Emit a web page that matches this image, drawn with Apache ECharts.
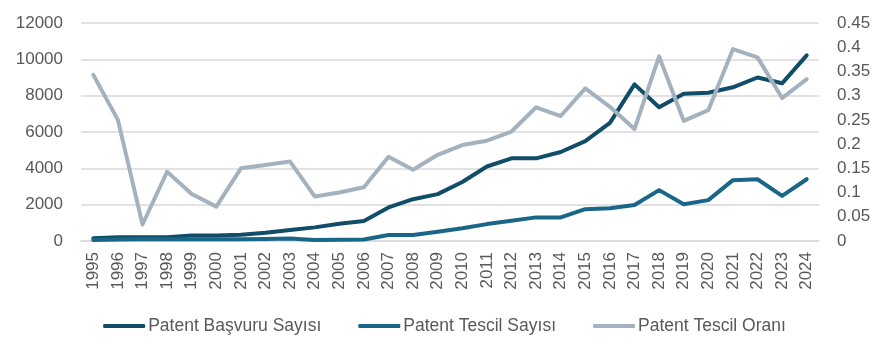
<!DOCTYPE html>
<html><head><meta charset="utf-8">
<script src="https://cdn.jsdelivr.net/npm/echarts@6/dist/echarts.min.js"></script>
<style>html,body{margin:0;padding:0;background:#fff}#c{width:889px;height:356px}</style>
</head><body><div id="c"></div>
<script>
const years = ['1995','1996','1997','1998','1999','2000','2001','2002','2003','2004','2005','2006','2007','2008','2009','2010','2011','2012','2013','2014','2015','2016','2017','2018','2019','2020','2021','2022','2023','2024'];
const basvuru = [150,200,200,200,300,300,350,450,600,750,950,1100,1850,2300,2580,3250,4100,4550,4550,4900,5500,6500,8620,7360,8100,8160,8460,9000,8680,10220];
const tescil = [60,80,90,90,100,100,90,110,140,60,70,80,330,330,510,700,930,1120,1300,1300,1750,1800,1980,2800,2020,2250,3350,3400,2480,3400];
const oran = [0.343,0.250,0.034,0.143,0.097,0.071,0.150,0.157,0.164,0.092,0.100,0.111,0.174,0.147,0.178,0.198,0.207,0.226,0.276,0.258,0.315,0.277,0.231,0.381,0.248,0.270,0.396,0.379,0.295,0.334];
const leftTicks = {min:0, max:12000, interval:2000};
const rightTicks = {min:0, max:0.45, interval:0.05};
const names = ['Patent Başvuru Sayısı','Patent Tescil Sayısı','Patent Tescil Oranı'];
const colors = ['#114C68','#1A6688','#A3B2BE'];

const chart = echarts.init(document.getElementById('c'), null, {renderer:'canvas'});
const font = 'Liberation Sans, Arial, sans-serif';
chart.setOption({
  animation:false,
  color: colors,
  grid:{left:81, right:70, top:23, bottom:115, containLabel:false},
  legend:{
    data:names, top:312, left:'center', itemWidth:42, itemHeight:4, itemGap:37,
    icon:'roundRect',
    textStyle:{color:'#595959', fontSize:17.5, fontFamily:font, padding:[0,0,0,-2]}
  },
  xAxis:{
    type:'category', data:years, boundaryGap:true,
    axisLine:{show:true, lineStyle:{color:'#D9D9D9', width:1.5}},
    axisTick:{show:false},
    axisLabel:{rotate:90, color:'#595959', fontSize:17, fontFamily:font, margin:11, interval:0}
  },
  yAxis:[
    {type:'value', min:leftTicks.min, max:leftTicks.max, interval:leftTicks.interval,
     axisLine:{show:false}, axisTick:{show:false},
     axisLabel:{color:'#595959', fontSize:17, fontFamily:font, margin:18, formatter:v=>String(v)},
     splitLine:{lineStyle:{color:'#D9D9D9', width:1.5}}},
    {type:'value', min:rightTicks.min, max:rightTicks.max, interval:rightTicks.interval,
     axisLine:{show:false}, axisTick:{show:false},
     axisLabel:{color:'#595959', fontSize:17, fontFamily:font, margin:18,
       formatter:v=>String(Math.round(v*100)/100)},
     splitLine:{show:false}}
  ],
  series:[
    {name:names[0], type:'line', data:basvuru, yAxisIndex:0, symbol:'none',
     lineStyle:{width:4, color:colors[0], cap:'round', join:'round'}},
    {name:names[1], type:'line', data:tescil, yAxisIndex:0, symbol:'none',
     lineStyle:{width:4, color:colors[1], cap:'round', join:'round'}},
    {name:names[2], type:'line', data:oran, yAxisIndex:1, symbol:'none',
     lineStyle:{width:4, color:colors[2], cap:'round', join:'round'}}
  ]
});
</script></body></html>
